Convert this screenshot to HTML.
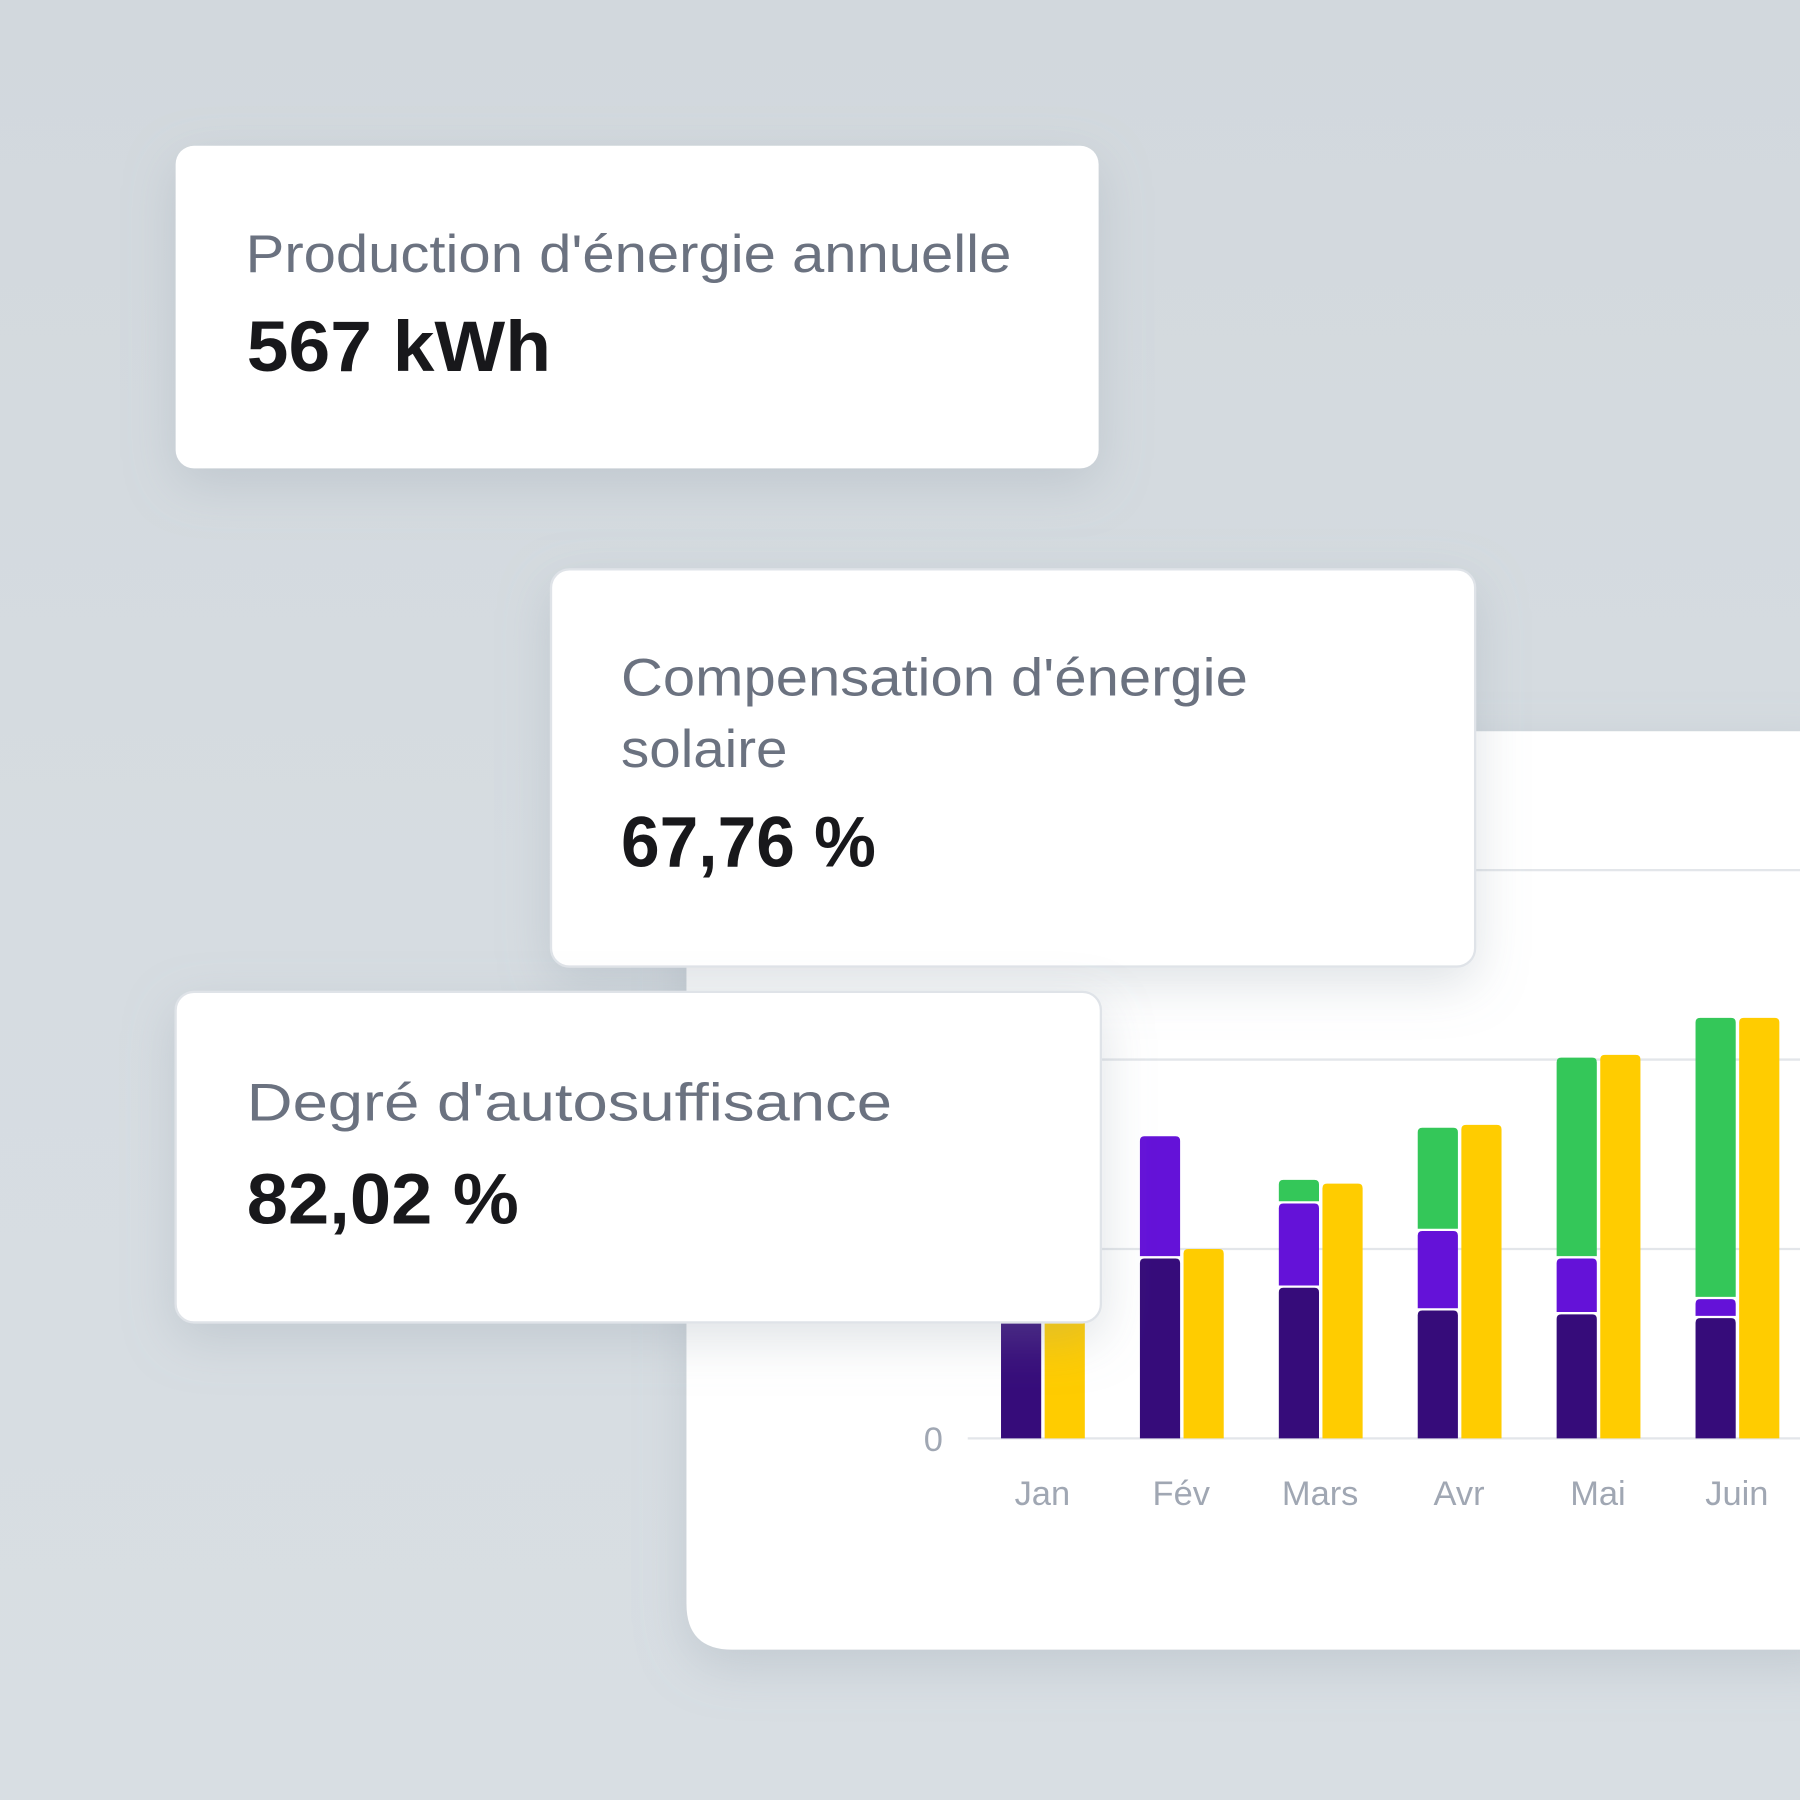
<!DOCTYPE html>
<html><head><meta charset="utf-8"><style>
html,body{margin:0;padding:0;width:1800px;height:1800px;overflow:hidden;background:#d5dbe0}
svg{display:block}
text{font-family:"Liberation Sans",sans-serif}
</style></head><body>
<svg id="root" width="1800" height="1800" viewBox="0 0 1568 1568">
<defs>
<linearGradient id="bg" x1="0" y1="0" x2="0" y2="1"><stop offset="0" stop-color="#d2d8dd"/><stop offset="0.5" stop-color="#d6dce1"/><stop offset="1" stop-color="#d8dee3"/></linearGradient>
<filter id="sh" x="-20%" y="-20%" width="140%" height="150%"><feDropShadow dx="0" dy="14" stdDeviation="22" flood-color="#8a96a3" flood-opacity="0.28"/></filter>
</defs>
<rect width="1568" height="1568" fill="url(#bg)"/>
<g id="chartCard">
<path d="M598 637 H1600 V1437 H638 Q598 1437 598 1397 Z" fill="#ffffff" filter="url(#sh)"/>
<g id="grid"></g>
<g id="bars"></g>
<g id="xlabels"></g>
</g>
<g>
<rect x="153" y="127" width="804" height="281" rx="16" fill="#fff" filter="url(#sh)"/>
<text x="214" y="237" font-size="46" fill="#6b7280" textLength="667" lengthAdjust="spacingAndGlyphs">Production d'énergie annuelle</text>
<text x="215" y="323" font-size="62" font-weight="bold" fill="#18181b" textLength="265" lengthAdjust="spacingAndGlyphs">567 kWh</text>
</g>
<g>
<rect x="480" y="496" width="805" height="346" rx="16" fill="#fff" stroke="#dfe3e8" stroke-width="2" filter="url(#sh)"/>
<text x="541" y="606" font-size="46" fill="#6b7280" textLength="546" lengthAdjust="spacingAndGlyphs">Compensation d'énergie</text>
<text x="541" y="668" font-size="46" fill="#6b7280" textLength="145" lengthAdjust="spacingAndGlyphs">solaire</text>
<text x="541" y="755" font-size="62" font-weight="bold" fill="#18181b" textLength="222" lengthAdjust="spacingAndGlyphs">67,76 %</text>
</g>
<g>
<rect x="153" y="864" width="806" height="288" rx="16" fill="#fff" stroke="#dfe3e8" stroke-width="2" filter="url(#sh)"/>
<text x="215" y="976" font-size="46" fill="#6b7280" textLength="562" lengthAdjust="spacingAndGlyphs">Degré d'autosuffisance</text>
<text x="215" y="1066" font-size="62" font-weight="bold" fill="#18181b" textLength="237" lengthAdjust="spacingAndGlyphs">82,02 %</text>
</g>
</svg>
<script>
const months = ["Jan","Fév","Mars","Avr","Mai","Juin"];
const gridConsumption = [15, 19.0, 15.9, 13.5, 13.1, 12.7];
const batteryUse = [6, 12.9, 8.9, 8.4, 5.9, 2.0];
const solarDirect = [0, 0, 2.5, 10.9, 21.2, 29.7];
const production = [14, 20, 26.9, 33.1, 40.5, 44.4];
const yTicks = [0, 20, 40, 60];
const yTickLabels = ["0", "", "", ""];

const NS = "http://www.w3.org/2000/svg";
const y0 = 1253, pxPerUnit = 8.25;
const yScale = v => y0 - v * pxPerUnit;
const groupX = i => 872 + i * 121;
const barW = 35, gap = 3;
function mk(tag, attrs, parent){const e=document.createElementNS(NS,tag);for(const k in attrs)e.setAttribute(k,attrs[k]);parent.appendChild(e);return e;}
const grid=document.getElementById('grid'), bars=document.getElementById('bars'), xl=document.getElementById('xlabels');
yTicks.forEach((t,i)=>{
  const l=mk('line',{x1:843,x2:1600,y1:yScale(t),y2:yScale(t),stroke:'#e3e6ea','stroke-width':2},grid);
  
  
  if(yTickLabels[i]){
    const tx=mk('text',{x:813,y:yScale(t)+11,'font-size':30,fill:'#a0a7b3','text-anchor':'middle'},grid);
    tx.textContent=yTickLabels[i];
    
    
  }
});
function seg(x,b,v,color,name){
  if(v<=0) return b;
  const top=yScale(b+v), bot=yScale(b)-(b>0?2:0), h=Math.max(0,bot-top), r=Math.min(4,h/2);
  const p=mk('path',{d:`M${x} ${bot} V${top+r} Q${x} ${top} ${x+r} ${top} H${x+barW-r} Q${x+barW} ${top} ${x+barW} ${top+r} V${bot} Z`,fill:color},bars);
  
  
  return b+v;
}
months.forEach((m,i)=>{
  const x=groupX(i);
  let b=0;
  b=seg(x,b,gridConsumption[i],'#360c7a','bar-grid-'+m.toLowerCase());
  b=seg(x,b,batteryUse[i],'#6412d8','bar-battery-'+m.toLowerCase());
  b=seg(x,b,solarDirect[i],'#34c759','bar-solar-'+m.toLowerCase());
  seg(x+barW+gap,0,production[i],'#ffcc00','bar-production-'+m.toLowerCase());
  const t=mk('text',{x:x+barW+1,y:1311,'font-size':30,fill:'#a0a7b3','text-anchor':'middle'},xl);
  t.textContent=m;
  
  
});
</script>
</body></html>
